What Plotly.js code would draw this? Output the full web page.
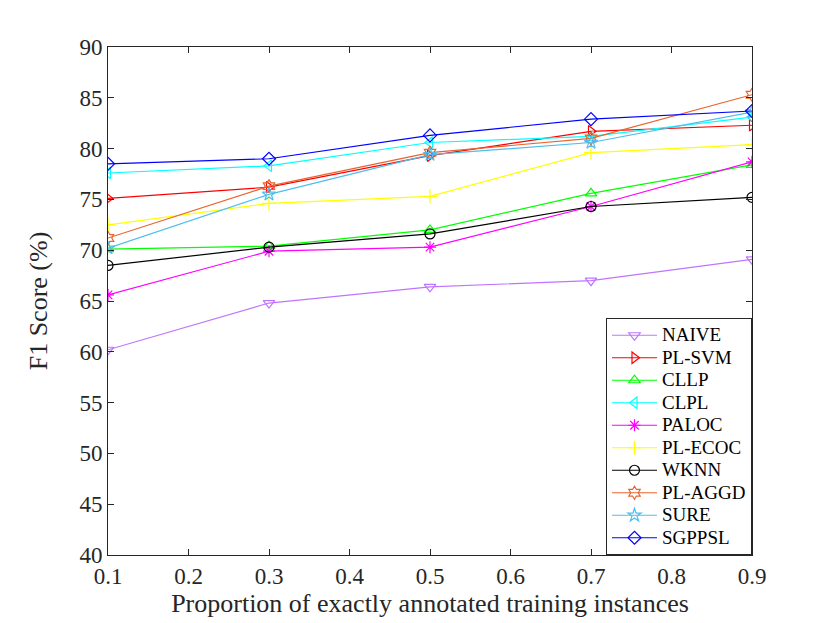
<!DOCTYPE html>
<html>
<head>
<meta charset="utf-8">
<script src="https://cdn.plot.ly/plotly-3.0.1.min.js"></script>
<style>
  html, body { margin: 0; padding: 0; background: #fff; }
  #chart { width: 830px; height: 623px; }
</style>
</head>
<body>
<div id="chart"></div>
<script>
/* F1 score vs proportion of exactly annotated training instances */

const proportions = [0.1, 0.3, 0.5, 0.7, 0.9];

const naive  = [60.2, 64.8, 66.4, 67.0, 69.1];
const plSvm  = [75.1, 76.2, 79.3, 81.7, 82.3];
const cllp   = [70.1, 70.4, 72.0, 75.6, 78.4];
const clpl   = [77.6, 78.3, 80.6, 81.2, 83.1];
const paloc  = [65.6, 69.9, 70.3, 74.3, 78.7];
const plEcoc = [72.5, 74.6, 75.3, 79.6, 80.4];
const wknn   = [68.5, 70.3, 71.6, 74.3, 75.2];
const plAggd = [71.2, 76.3, 79.6, 81.0, 85.3];
const sure   = [70.2, 75.5, 79.4, 80.6, 83.6];
const sgppsl = [78.5, 79.0, 81.3, 82.9, 83.7];

const methodNames = ['NAIVE', 'PL-SVM', 'CLLP', 'CLPL', 'PALOC',
                     'PL-ECOC', 'WKNN', 'PL-AGGD', 'SURE', 'SGPPSL'];

const series = [naive, plSvm, cllp, clpl, paloc, plEcoc, wknn, plAggd, sure, sgppsl];
const colors = ['#bf74ff', '#ff0000', '#00ff00', '#00ffff', '#ff00ff',
                '#ffff00', '#000000', '#e8642e', '#4dbeee', '#0000ff'];
const symbols = ['triangle-down-open', 'triangle-right-open', 'triangle-up-open',
                 'triangle-left-open', 'asterisk-open', 'cross-thin-open',
                 'circle-open', 'hexagram-open', 'star-open', 'diamond-open'];

// legend rows are packed tighter than plotly's default for this text size,
// so the legend font stays small and the label itself is enlarged
const traces = series.map((vals, i) => ({
  x: proportions,
  y: vals,
  type: 'scatter',
  mode: 'lines+markers',
  name: '<span style="font-size:19px">' + methodNames[i] + '</span>',
  line: { color: colors[i], width: 1.2 },
  marker: { symbol: symbols[i], size: 10, color: colors[i], line: { color: colors[i], width: 1.2 } },
}));

const serif = 'Liberation Serif, Times New Roman, serif';

const axisStyle = {
  showline: true,
  linecolor: '#262626',
  linewidth: 1,
  mirror: 'ticks',
  ticks: 'inside',
  ticklen: 6,
  tickcolor: '#262626',
  showgrid: false,
  zeroline: false,
  tickfont: { family: serif, size: 23, color: '#262626' },
};

const layout = {
  width: 830,
  height: 623,
  paper_bgcolor: '#fff',
  plot_bgcolor: '#fff',
  margin: { l: 108, r: 78, t: 47, b: 68 },
  showlegend: true,
  xaxis: Object.assign({}, axisStyle, {
    range: [0.1, 0.9],
    tickvals: [0.1, 0.2, 0.3, 0.4, 0.5, 0.6, 0.7, 0.8, 0.9],
    ticktext: ['0.1', '0.2', '0.3', '0.4', '0.5', '0.6', '0.7', '0.8', '0.9'],
    title: { text: 'Proportion of exactly annotated training instances',
             font: { family: serif, size: 26, color: '#262626' }, standoff: 2 },
  }),
  yaxis: Object.assign({}, axisStyle, {
    range: [40, 90],
    dtick: 5,
    title: { text: 'F1 Score (%)',
             font: { family: serif, size: 26, color: '#262626' }, standoff: 24 },
  }),
  legend: {
    x: 1, xanchor: 'right',
    y: 0, yanchor: 'bottom',
    bgcolor: '#fff',
    bordercolor: '#262626',
    borderwidth: 1,
    font: { family: serif, size: 15, color: '#000' },
    itemwidth: 45,
    tracegroupgap: 0,
  },
};

Plotly.newPlot('chart', traces, layout, { displayModeBar: false, staticPlot: true });
</script>
</body>
</html>
